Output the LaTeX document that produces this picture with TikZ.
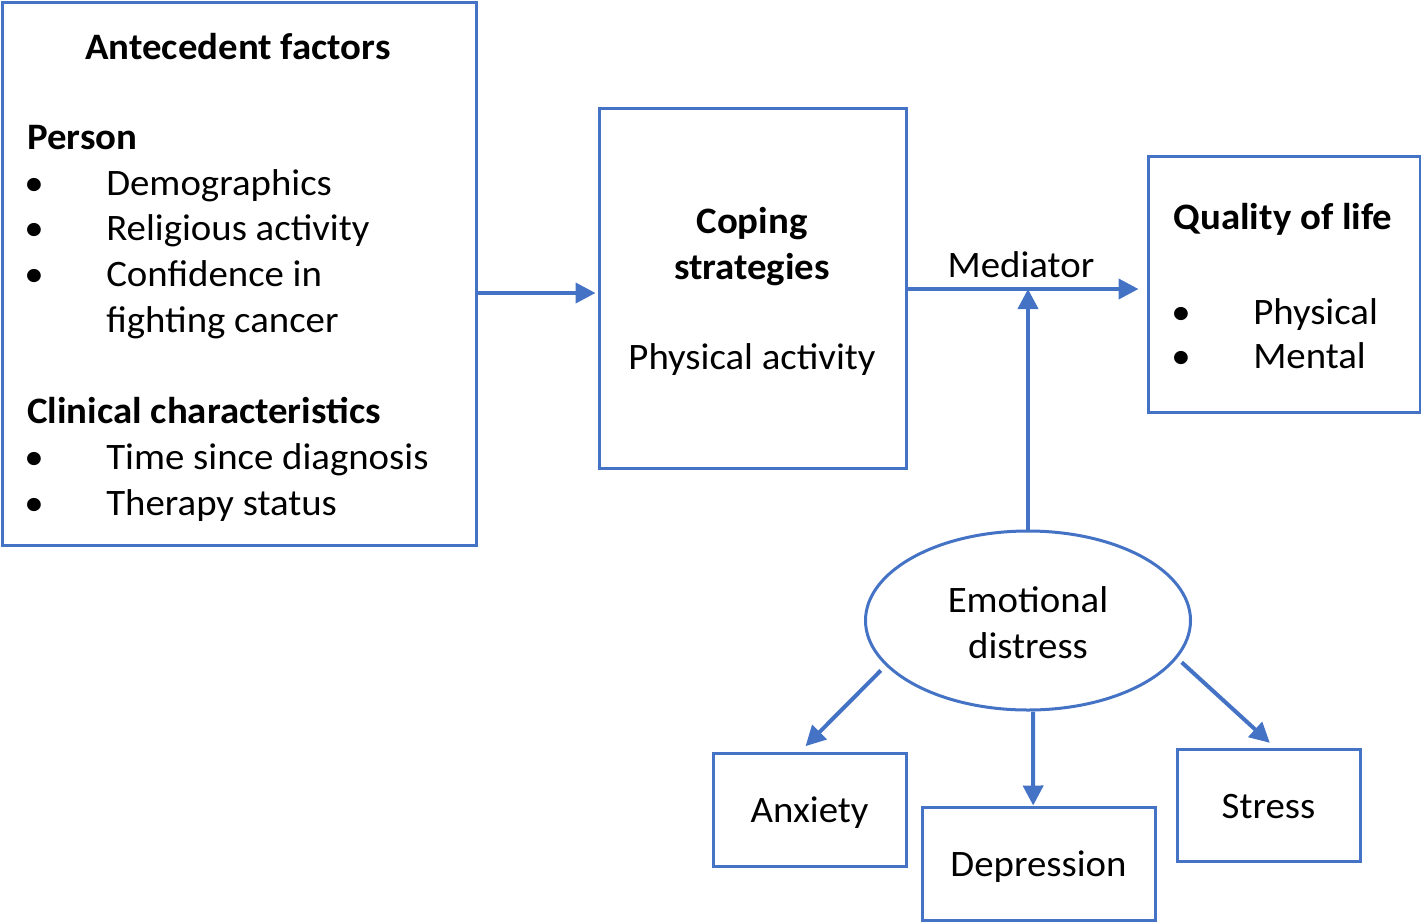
\documentclass[tikz,border=0pt]{standalone}
\usepackage{fontspec}
\setmainfont{Carlito}[FakeStretch=1.04]
\usetikzlibrary{arrows.meta,shapes.geometric}
\definecolor{bl}{HTML}{4472C4}
\begin{document}
\begin{tikzpicture}[x=0.75pt,y=-0.75pt,
  font=\fontsize{28}{34.5}\selectfont,
  box/.style={draw=bl,line width=2.25pt,inner sep=0pt,align=center,text height=19.5pt,text depth=0pt},
  arr/.style={draw=bl,line width=3pt,-{Triangle[length=15pt,width=15pt]}},
  txt/.style={anchor=base west,inner sep=0pt},
  ctr/.style={anchor=base,inner sep=0pt}]
\useasboundingbox (0,0) rectangle (1421,922);

% boxes
\node[box,minimum width=355.5pt,minimum height=407.25pt] (ante) at (239,273.5) {};
\node[box,minimum width=230.25pt,minimum height=270pt] (coping) at (752.5,288) {};
\node[box,minimum width=204pt,minimum height=192pt] (quality) at (1284,284) {};
\node[box,ellipse,minimum width=243.75pt,minimum height=134.25pt,text height=57pt,text depth=0pt] (emo) at (1028,620.5) {Emotional\\distress};
\node[box,minimum width=144.75pt,minimum height=84.75pt] (anx) at (809.5,809.5) {Anxiety};
\node[box,minimum width=174.75pt,minimum height=84.75pt] (dep) at (1038.5,863.5) {Depression};
\node[box,minimum width=137.25pt,minimum height=84pt] (str) at (1268.5,805) {Stress};

% antecedent text
\node[ctr] (t1) at (238,59) {\bfseries Antecedent factors};
\node[txt] (t2) at (27,149) {\bfseries Person};
\node[ctr] (b1) at (34,195) {•};
\node[txt] (t3) at (106,195) {Demographics};
\node[ctr] (b2) at (34,240) {•};
\node[txt] (t4) at (106,240) {Religious activity};
\node[ctr] (b3) at (34,286) {•};
\node[txt] (t5) at (106,286) {Confidence in};
\node[txt] (t6) at (106,332) {fighting cancer};
\node[txt] (t7) at (27,423) {\bfseries Clinical characteristics};
\node[ctr] (b4) at (34,469) {•};
\node[txt] (t8) at (106,469) {Time since diagnosis};
\node[ctr] (b5) at (34,515) {•};
\node[txt] (t9) at (106,515) {Therapy status};

% coping text
\node[ctr] (c1) at (752,233) {\bfseries Coping};
\node[ctr] (c2) at (752,279) {\bfseries strategies};
\node[ctr] (c3) at (752,369) {Physical activity};

% quality text
\node[ctr] (q1) at (1283,229) {\bfseries Quality of life};
\node[ctr] (qb1) at (1181,324) {•};
\node[txt] (q2) at (1253,324) {Physical};
\node[ctr] (qb2) at (1181,368) {•};
\node[txt] (q3) at (1253,368) {Mental};

% mediator
\node[ctr] (medl) at (1021,277) {Mediator};
\coordinate (med) at (1028,289);
\coordinate (a1) at (0,293);

% connectors
\draw[arr,shorten >=1.5pt] (ante.east |- a1) -- (coping.west |- a1);
\draw[arr,shorten >=6pt] (coping.east |- med) -- (quality.west |- med);
\draw[arr] (emo.north) -- (med);
\draw[arr] ([xshift=-7.5pt]emo.200) -- ([xshift=-3pt,yshift=4pt]anx.north);
\draw[arr] ([xshift=3.75pt]emo.south) -- ([xshift=-4pt]dep.north);
\draw[arr] ([xshift=6pt]emo.344) -- ([xshift=1pt,yshift=3.5pt]str.north);
\end{tikzpicture}
\end{document}
